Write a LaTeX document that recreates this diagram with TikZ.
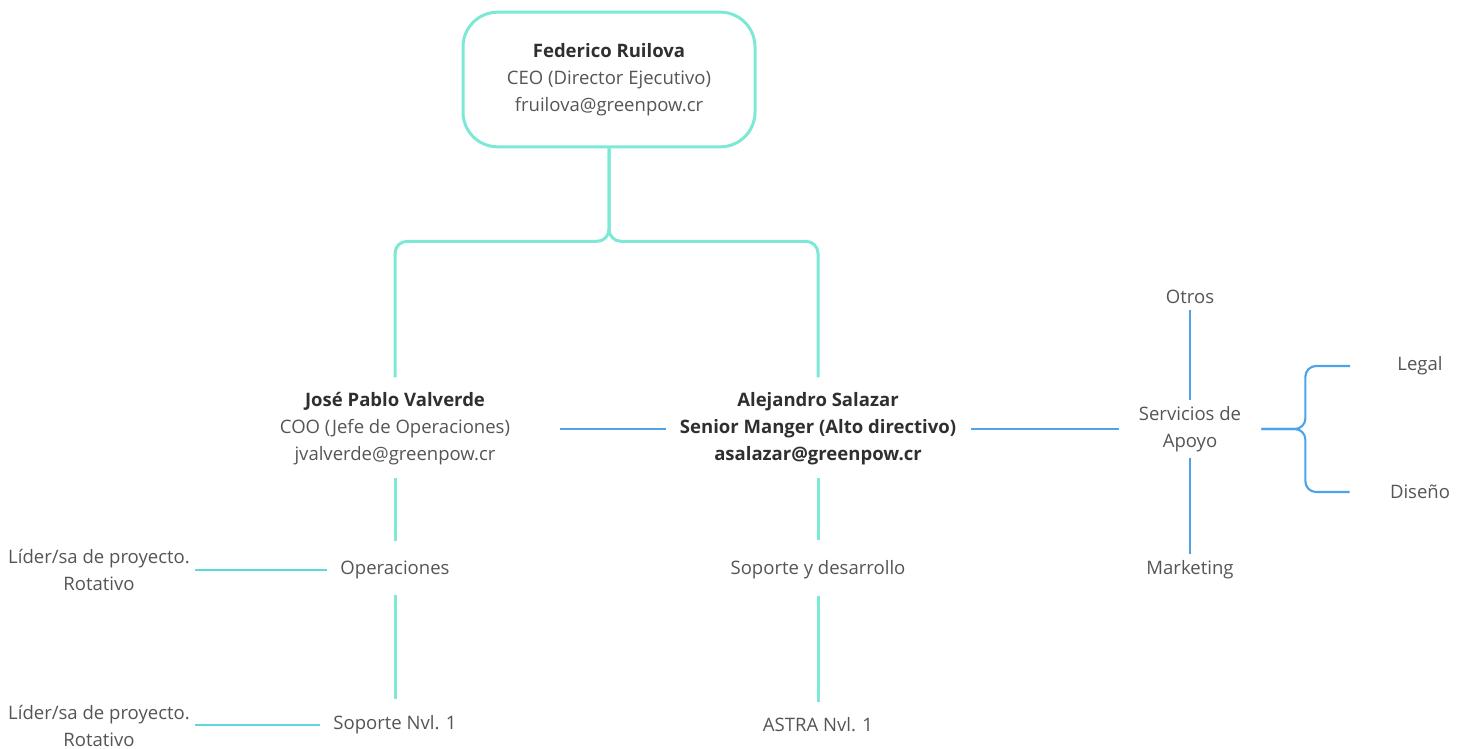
\documentclass[tikz,border=0pt]{standalone}
\usepackage{fontspec}
\setmainfont{Open Sans}
\usetikzlibrary{calc}
\definecolor{mint}{HTML}{7DE8D6}
\definecolor{aqua}{HTML}{5DD8DC}
\definecolor{sky}{HTML}{4DA3EA}
\definecolor{txt}{HTML}{555555}
\definecolor{txtb}{HTML}{2F2F2F}
\begin{document}
\begin{tikzpicture}[x=0.75pt,y=-0.75pt,
  lbl/.style={align=center,text=txt,inner sep=0pt,
    font=\fontsize{13.9pt}{20.25pt}\selectfont},
  boss/.style={lbl,draw=mint,line width=2.25pt,rounded corners=26pt,
    minimum width=219pt,minimum height=101pt},
  tealline/.style={draw=mint,line width=2.25pt},
  aqualine/.style={draw=aqua,line width=1.6pt},
  skyline/.style={draw=sky,line width=1.6pt}]
\useasboundingbox (0,0) rectangle (1466,749);

% people
\node[boss] (ceo) at (609,79.5)
  {\textbf{\color{txtb}Federico Ruilova}\\CEO (Director Ejecutivo)\\fruilova@greenpow.cr};
\node[lbl] (jpv) at (395,429)
  {\textbf{\color{txtb}José Pablo Valverde}\\COO (Jefe de Operaciones)\\jvalverde@greenpow.cr};
\node[lbl,text=txtb,font=\fontsize{13.9pt}{20.25pt}\selectfont\bfseries] (as) at (818,429)
  {Alejandro Salazar\\Senior Manger (Alto directivo)\\asalazar@greenpow.cr};

% areas
\node[lbl] (ops) at (395,570) {Operaciones};
\node[lbl] (sop1) at (395,725) {Soporte Nvl. 1};
\node[lbl] (lid1) at (99,570) {Líder/sa de proyecto.\\Rotativo};
\node[lbl] (lid2) at (99,726) {Líder/sa de proyecto.\\Rotativo};
\node[lbl] (syd) at (818,570) {Soporte y desarrollo};
\node[lbl] (astra) at (818,725) {ASTRA Nvl. 1};
\node[lbl] (srv) at (1190,429) {Servicios de\\Apoyo};
\node[lbl] (otros) at (1190,297) {Otros};
\node[lbl] (mkt) at (1190,570) {Marketing};
\node[lbl] (legal) at (1420,366) {Legal};
\node[lbl] (dis) at (1420,492) {Diseño};

% reporting lines from the CEO
\draw[tealline,rounded corners=9pt] (ceo.south) -- ($(ceo.south)+(0,93)$) -| ($(jpv.north)+(0,-15)$);
\draw[tealline,rounded corners=9pt] (ceo.south) -- ($(ceo.south)+(0,93)$) -| ($(as.north)+(0,-15)$);

% operations branch
\draw[tealline] ($(jpv.south)+(0,12)$) -- ($(ops.north)+(0,-20)$);
\draw[tealline] ($(ops.south)+(0,16)$) -- ($(sop1.north)+(0,-16)$);
\draw[aqualine] ($(lid1.east)+(5,0)$) -- ($(ops.west)+(-13,0)$);
\draw[aqualine] ($(lid2.east)+(5,-1)$) -- ($(sop1.west)+(-13,0)$);

% support and development branch
\draw[tealline] ($(as.south)+(0,12)$) -- ($(syd.north)+(0,-20)$);
\draw[tealline] ($(syd.south)+(0,16)$) -- ($(astra.north)+(0,-16)$);

% support services
\draw[skyline] ($(jpv.east)+(50,0)$) -- ($(as.west)+(-14,0)$);
\draw[skyline] ($(as.east)+(15,0)$) -- ($(srv.west)+(-20,0)$);
\draw[skyline] ($(srv.north)+(0,-6)$) -- ($(otros.south)+(0,6)$);
\draw[skyline] ($(srv.south)+(0,6)$) -- ($(mkt.north)+(0,-6)$);
\draw[skyline,rounded corners=8pt] ($(srv.east)+(20,0)$) -| ($(srv.east)+(64,-63)$) -- ($(legal.west)+(-47,0)$);
\draw[skyline,rounded corners=8pt] ($(srv.east)+(20,0)$) -| ($(srv.east)+(64,63)$) -- ($(dis.west)+(-40,0)$);
\end{tikzpicture}
\end{document}
